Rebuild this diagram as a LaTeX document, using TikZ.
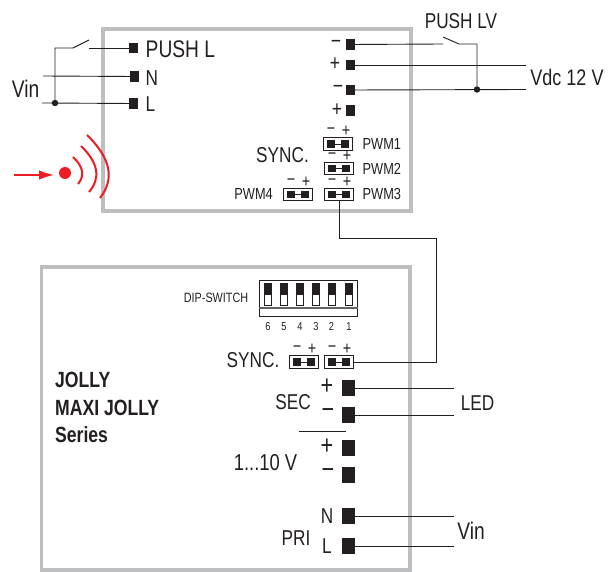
\documentclass[tikz,border=0pt]{standalone}
\usepackage{fontspec}
\setmainfont{Liberation Sans}[FakeStretch=0.8]
\definecolor{ink}{HTML}{231F20}
\definecolor{casing}{HTML}{BCBEC0}
\definecolor{signal}{HTML}{ED1C24}
\usetikzlibrary{arrows.meta}

\begin{document}
\begin{tikzpicture}[x=1pt, y=-1pt,
  every node/.style = {inner sep=0pt, text=ink},
  wire/.style = {draw=ink, line width=0.9pt},
  housing/.style = {draw=casing, line width=4pt},
  ray/.style = {draw=signal, line width=2pt},
  term/.style = {fill=ink, minimum width=9pt, minimum height=10.5pt},
  bigterm/.style = {fill=ink, minimum width=13pt, minimum height=16pt},
  joint/.style = {circle, fill=ink, minimum size=6.5pt},
  pad/.style = {fill=ink, minimum size=7.5pt},
  jumper/.style = {draw=ink, line width=1pt, minimum width=29pt, minimum height=12.5pt},
  dipbox/.style = {draw=ink, line width=0.9pt, minimum width=7pt, minimum height=22pt},
  big/.style = {font=\fontsize{24}{24}\selectfont},
  mid/.style = {font=\fontsize{21.5}{21.5}\selectfont},
  small/.style = {font=\fontsize{16}{16}\selectfont},
  tiny/.style = {font=\fontsize{11.5}{11.5}\selectfont},
  sign/.style = {font=\fontsize{22}{22}\selectfont},
  bigsign/.style = {font=\fontsize{27}{27}\selectfont},
  jumpsign/.style = {font=\fontsize{18}{18}\selectfont},
  series/.style = {font=\fontsize{22}{22}\selectfont\bfseries, anchor=west}]
  \useasboundingbox (0,0) rectangle (610,572);

  \draw[housing] (103,29) rectangle (410.5,211);
  \draw[housing, line width=3.5pt] (41.5,267) rectangle (410,570);

  \node[term] (pushl) at (133.5,48) {};
  \node[term] (mainsn) at (134.5,76.5) {};
  \node[term] (mainsl) at (133.5,103.5) {};
  \node[big, anchor=west] (pushltext) at (145.5,49) {PUSH L};
  \node[mid, anchor=west] (mainsntext) at (145.5,78) {N};
  \node[mid, anchor=west] (mainsltext) at (145.5,104) {L};
  \node[big] (vinleft) at (25.5,89) {Vin};
  \coordinate (swfix) at (73,48);
  \coordinate (swtip) at (89,40);
  \coordinate (swseat) at (89,48);
  \coordinate (swcorner) at (55,48);
  \coordinate (nfree) at (43,76);
  \coordinate (lfree) at (42,103);
  \node[joint] (jleft) at (55,103) {};
  \draw[wire] (nfree) -- (mainsn);
  \draw[wire] (lfree) -- (mainsl);
  \draw[wire] (swseat) -- (pushl);
  \draw[wire] (jleft) -- (swcorner) -- (swfix) -- (swtip);

  \node[circle, fill=signal, minimum size=12pt] (led) at (65,173) {};
  \coordinate (rayin) at (14,175);
  \draw[signal, line width=1.6pt, -{Latex[length=15pt, width=9.5pt]}] (rayin) -- (54,175);
  \draw[ray] (73,157) .. controls (83.3,166.7) and (85,175.7) .. (78,184);
  \draw[ray] (81,146) .. controls (98.3,162.7) and (101,178) .. (89,192);
  \draw[ray] (87,135) .. controls (110.7,158) and (115,179) .. (100,198);

  \node[term] (t1) at (350.5,44.5) {};
  \node[term] (t2) at (350.5,65) {};
  \node[term] (t3) at (350.5,90) {};
  \node[term] (t4) at (350.5,110.5) {};
  \node[sign] (s1) at (336,44) {−};
  \node[sign] (s2) at (335,64) {+};
  \node[sign] (s3) at (338,89) {−};
  \node[sign] (s4) at (337,110) {+};
  \node[mid] (pushlv) at (461,21) {PUSH LV};
  \node[font=\fontsize{22.5}{22.5}\selectfont] (vdc) at (567,77) {Vdc 12 V};
  \coordinate (lvseat) at (443,44);
  \coordinate (lvtip) at (443,37);
  \coordinate (lvfix) at (459,44);
  \coordinate (lvcorner) at (477,44);
  \coordinate (vplus) at (526,65);
  \coordinate (vminus) at (526,89.5);
  \node[joint] (jright) at (477,89.5) {};
  \draw[wire] (t1) -- (lvseat);
  \draw[wire] (lvtip) -- (lvfix) -- (lvcorner) -- (jright);
  \draw[wire] (t2) -- (vplus);
  \draw[wire] (t3) -- (vminus);

  \foreach \name/\x/\y in {pwma/338/144, pwmb/339/168.5, pwmc/339/194.5, pwmd/298/194.5, synca/304/362, syncb/339/362} {
    \node[jumper] (\name) at (\x,\y) {};
    \node[pad] (\name l) at (\x-7,\y) {};
    \node[pad] (\name r) at (\x+7,\y) {};
    \draw[wire] (\name l) -- (\name r);
    \node[jumpsign] (\name m) at (\x-7,\y-12.5) {−};
    \node[jumpsign] (\name p) at (\x+8,\y-12.5) {+};
  }
  \node[small, anchor=west] (pwmatext) at (362.5,144) {PWM1};
  \node[small, anchor=west] (pwmbtext) at (362.5,169) {PWM2};
  \node[small, anchor=west] (pwmctext) at (362.5,194) {PWM3};
  \node[small, anchor=east] (pwmdtext) at (273,194) {PWM4};
  \node[mid] (synctop) at (282.5,155) {SYNC.};
  \node[mid] (syncbot) at (253,360) {SYNC.};
  \coordinate (linka) at (339,238);
  \coordinate (linkb) at (436,238);
  \coordinate (linkc) at (436,362);
  \draw[wire] (pwmc) -- (linka) -- (linkb) -- (linkc) -- (syncb);

  \node[draw=ink, line width=1pt, minimum width=98pt, minimum height=36pt] (dip) at (308,298) {};
  \draw[draw=ink!70, line width=1.4pt] (dip.west |- 0,308) -- (dip.east |- 0,308);
  \foreach \n/\x/\lab in {a/268/6, b/284/5, c/300/4, d/316/3, e/331.5/2, f/349/1} {
    \node[dipbox] (sw\n) at (\x,294) {};
    \fill[ink] (sw\n.north west) rectangle ([yshift=-1pt]sw\n.east);
    \node[tiny] (num\n) at (\x,326.5) {\lab};
  }
  \node[font=\fontsize{13.5}{13.5}\selectfont] (diptext) at (216,297.5) {DIP-SWITCH};

  \node[series] (jolly) at (55,380) {JOLLY};
  \node[series] (maxi) at (55,407.5) {MAXI JOLLY};
  \node[series] (seriestext) at (55,435) {Series};

  \node[bigterm] (secp) at (348.5,388) {};
  \node[bigterm] (secm) at (348.5,415) {};
  \node[bigterm] (dimp) at (348.5,448) {};
  \node[bigterm] (dimm) at (348.5,475) {};
  \node[bigterm] (prin) at (348.5,516) {};
  \node[bigterm] (pril) at (348.5,546) {};
  \node[bigsign] (secps) at (327,387) {+};
  \node[bigsign] (secms) at (328,414) {−};
  \node[bigsign] (dimps) at (327,447) {+};
  \node[bigsign] (dimms) at (328,474) {−};
  \node[mid] (printext) at (327,516) {N};
  \node[mid] (priltext) at (327,546) {L};
  \node[mid] (sectext) at (293,402) {SEC};
  \node[font=\fontsize{23}{23}\selectfont] (dimtext) at (265.5,463) {1...10 V};
  \node[mid] (pritext) at (296,538) {PRI};
  \node[mid] (ledtext) at (477.5,403) {LED};
  \node[big] (vinright) at (471,531) {Vin};
  \coordinate (sepa) at (299,431);
  \coordinate (sepb) at (346,431);
  \draw[wire] (sepa) -- (sepb);
  \coordinate (ledp) at (454,388);
  \coordinate (ledm) at (454,415);
  \coordinate (vinn) at (454,516);
  \coordinate (vinl) at (454,546);
  \draw[wire] (secp) -- (ledp);
  \draw[wire] (secm) -- (ledm);
  \draw[wire] (prin) -- (vinn);
  \draw[wire] (pril) -- (vinl);
\end{tikzpicture}
\end{document}
